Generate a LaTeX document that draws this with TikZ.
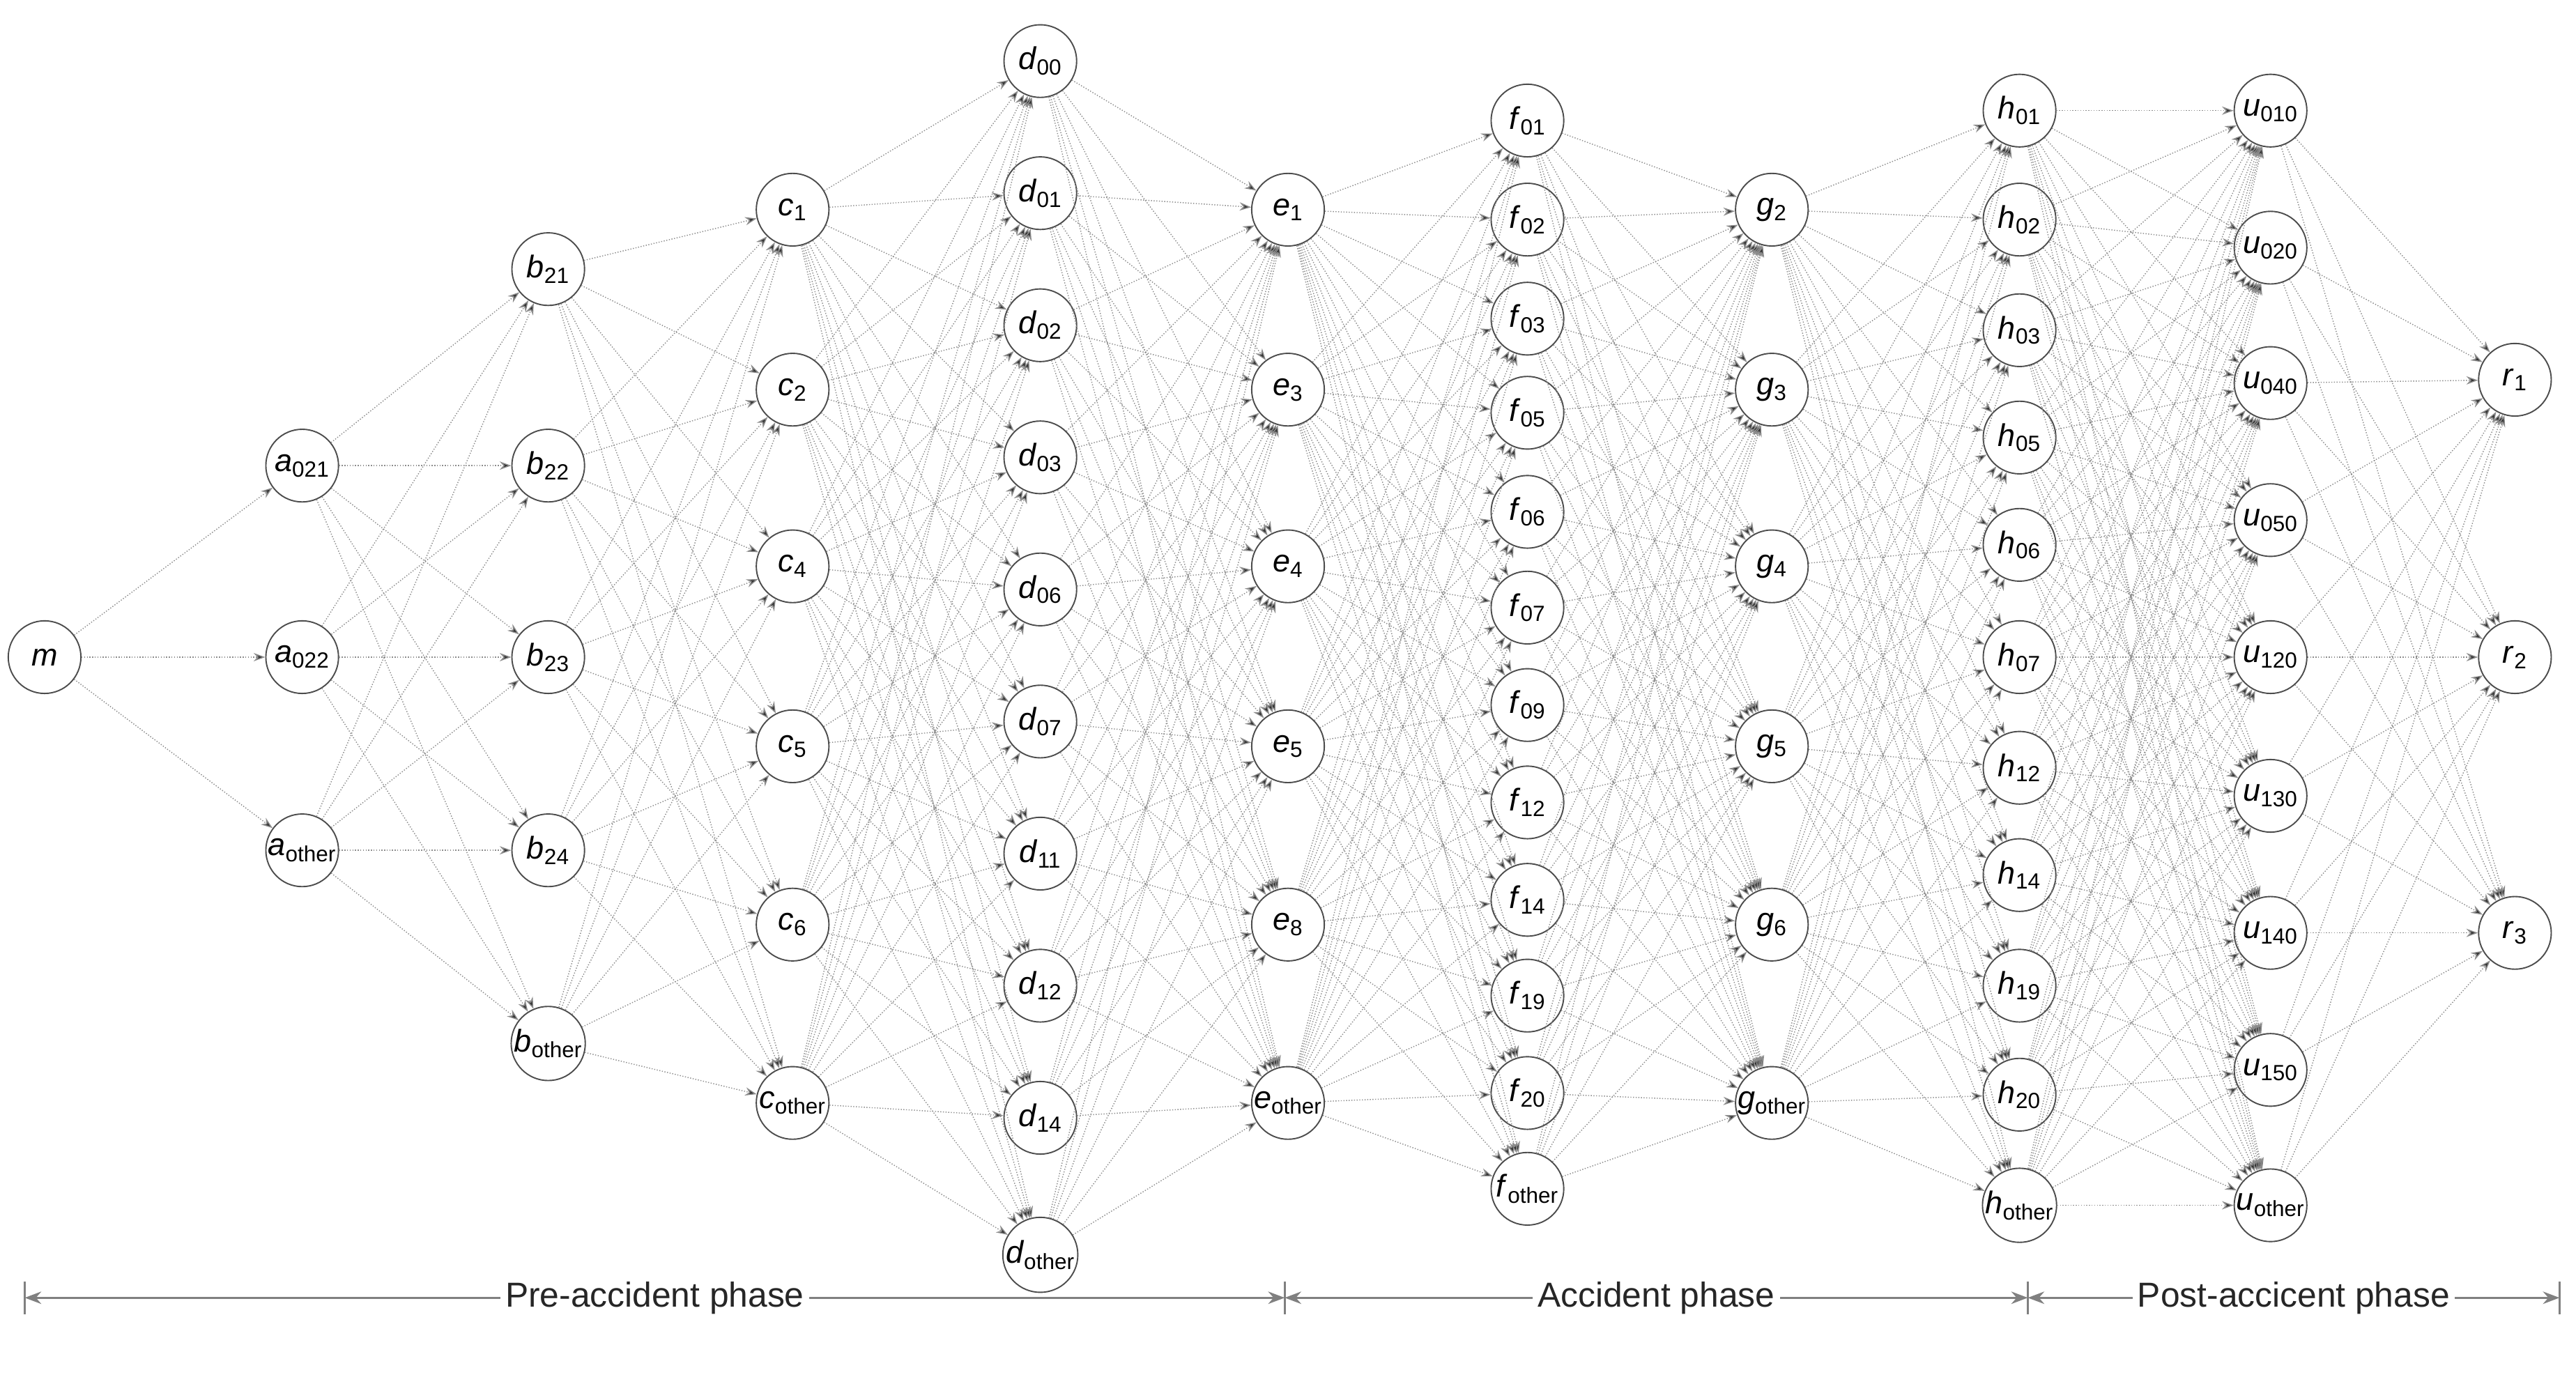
\documentclass[tikz,border=0pt]{standalone}
\usepackage{fontspec}
\setmainfont{Liberation Sans}
\usetikzlibrary{arrows.meta}
\tikzset{
 nd/.style={circle,draw=black!70,line width=0.8pt,fill=white,minimum size=44pt,inner sep=0pt,font=\fontsize{19}{22}\selectfont},
 ed/.style={draw=black!45,densely dotted,line width=0.6pt,-{Stealth[length=7pt,width=5pt,fill=black!80]}},
 ax/.style={draw=black!50,line width=1.2pt},
 axl/.style={fill=white,inner sep=3pt,text=black!85,font=\fontsize{21}{24}\selectfont}
}
\begin{document}
\begin{tikzpicture}[x=1pt,y=-1pt]
\useasboundingbox (0,0) rectangle (1560,838);
\node[nd] (m1) at (27,398) {\textit{m}};
\foreach \y/\s [count=\i] in {282/021,398/022,515/other} \node[nd] (a\i) at (183,\y) {\textit{a}\textsubscript{\s}};
\foreach \y/\s [count=\i] in {163/21,282/22,398/23,515/24,632/other} \node[nd] (b\i) at (332,\y) {\textit{b}\textsubscript{\s}};
\foreach \y/\s [count=\i] in {127/1,236/2,343/4,452/5,560/6,668/other} \node[nd] (c\i) at (480,\y) {\textit{c}\textsubscript{\s}};
\foreach \y/\s [count=\i] in {37/00,117/01,197/02,277/03,357/06,437/07,517/11,597/12,677/14,760/other} \node[nd] (d\i) at (630,\y) {\textit{d}\textsubscript{\s}};
\foreach \y/\s [count=\i] in {127/1,236/3,343/4,452/5,560/8,668/other} \node[nd] (e\i) at (780,\y) {\textit{e}\textsubscript{\s}};
\foreach \y/\s [count=\i] in {73/01,133/02,193/03,250/05,310/06,368/07,427/09,486/12,545/14,603/19,662/20,720/other} \node[nd] (f\i) at (925,\y) {\textit{f}\textsubscript{\s}};
\foreach \y/\s [count=\i] in {127/2,236/3,343/4,452/5,560/6,668/other} \node[nd] (g\i) at (1073,\y) {\textit{g}\textsubscript{\s}};
\foreach \y/\s [count=\i] in {67/01,133/02,200/03,265/05,330/06,398/07,465/12,530/14,597/19,663/20,730/other} \node[nd] (h\i) at (1223,\y) {\textit{h}\textsubscript{\s}};
\foreach \y/\s [count=\i] in {67/010,150/020,232/040,315/050,398/120,482/130,565/140,648/150,730/other} \node[nd] (u\i) at (1375,\y) {\textit{u}\textsubscript{\s}};
\foreach \y/\s [count=\i] in {230/1,398/2,565/3} \node[nd] (r\i) at (1523,\y) {\textit{r}\textsubscript{\s}};
\begin{scope}[on background layer/.style={}]
\foreach \p/\np/\q/\nq in {m/1/a/3,a/3/b/5,b/5/c/6,c/6/d/10,d/10/e/6,e/6/f/12,f/12/g/6,g/6/h/11,h/11/u/9,u/9/r/3}{
 \foreach \i in {1,...,\np}{\foreach \j in {1,...,\nq}{\draw[ed] (\p\i) -- (\q\j);}}}
\end{scope}
\coordinate (x0) at (15,786); \coordinate (x1) at (778,786);
\coordinate (x2) at (1228,786); \coordinate (x3) at (1550,786);
\foreach \c in {x0,x1,x2,x3} \draw[ax] ([yshift=-10pt]\c) -- ([yshift=10pt]\c);
\draw[ax,{Stealth[length=10pt]}-{Stealth[length=10pt]}] (x0) -- node[axl]{Pre-accident phase} (x1);
\draw[ax,{Stealth[length=10pt]}-{Stealth[length=10pt]}] (x1) -- node[axl]{Accident phase} (x2);
\draw[ax,{Stealth[length=10pt]}-{Stealth[length=10pt]}] (x2) -- node[axl]{Post-accicent phase} (x3);
\end{tikzpicture}
\end{document}
